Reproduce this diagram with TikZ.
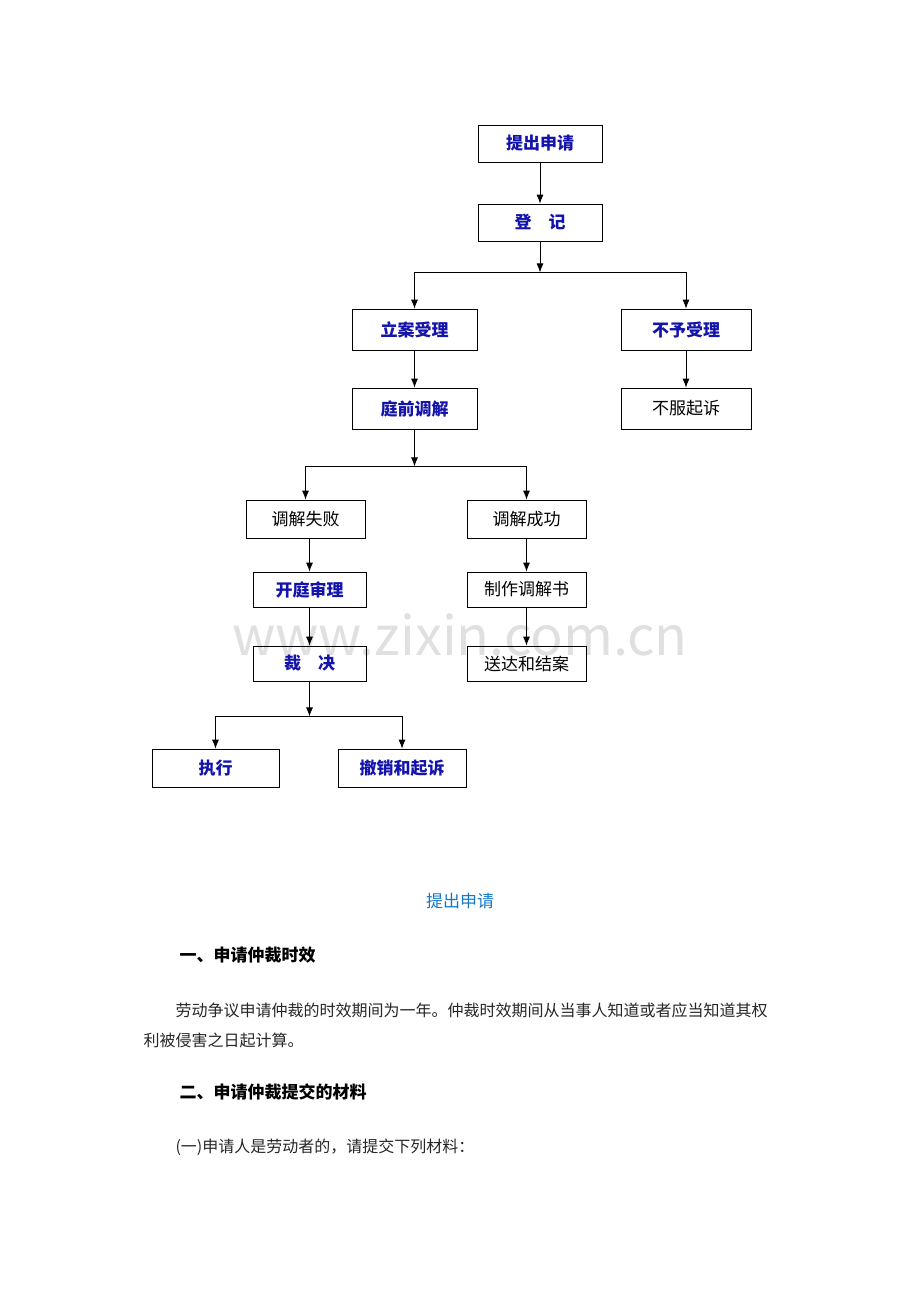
\documentclass[tikz,border=0pt]{standalone}
\usepackage{fontspec}
\setmainfont{Noto Sans CJK SC}
\newfontfamily\cjk{Noto Sans CJK SC}
\usetikzlibrary{arrows.meta}
\definecolor{keyblue}{RGB}{20,20,170}
\definecolor{headblue}{RGB}{20,120,200}

\begin{document}
\begin{tikzpicture}[x=1pt,y=-1pt,
  box/.style={draw, line width=0.8pt, minimum height=37pt, inner sep=0pt, font=\cjk\fontsize{17}{17}\selectfont},
  key/.style={box, text=keyblue, font=\cjk\bfseries\fontsize{17}{17}\selectfont},
  arr/.style={-{Latex[length=9pt,width=7pt]}, line width=0.8pt},
  ln/.style={line width=0.8pt}]
\useasboundingbox (0,0) rectangle (920,1302);

% watermark
\node[text=black!12, font=\fontsize{54}{54}\selectfont] (wm) at (460,635) {www.zixin.com.cn};

% top
\node[key, minimum width=124pt] (tq) at (540,143.5) {提出申请};
\node[key, minimum width=124pt] (dj) at (540,222.5) {登\quad 记};
\node[key, minimum width=125pt, minimum height=41pt] (la) at (414.5,329.5) {立案受理};
\node[key, minimum width=130pt, minimum height=41pt] (by) at (686,329.5) {不予受理};
\node[key, minimum width=125pt, minimum height=41pt] (tj) at (414.5,408.5) {庭前调解};
\node[box, minimum width=130pt, minimum height=41pt] (bf) at (686,408.5) {不服起诉};

% middle
\node[box, minimum width=119pt, minimum height=38pt] (sb) at (305.5,519) {调解失败};
\node[box, minimum width=119pt, minimum height=38pt] (cg) at (526.5,519) {调解成功};
\node[key, minimum width=113pt, minimum height=35pt] (kt) at (309.5,589.5) {开庭审理};
\node[box, minimum width=119pt, minimum height=35pt] (zz) at (526.5,589.5) {制作调解书};
\node[key, minimum width=113pt, minimum height=35pt] (cj) at (309.5,663.5) {裁\quad 决};
\node[box, minimum width=119pt, minimum height=35pt] (sd) at (526.5,663.5) {送达和结案};

% bottom
\node[key, minimum width=127pt, minimum height=38pt] (zx) at (215.5,768) {执行};
\node[key, minimum width=128pt, minimum height=38pt] (cx) at (402,768) {撤销和起诉};

% connectors
\draw[arr] (tq) -- (dj);
\coordinate (b1) at ([yshift=-31pt]dj.south);
\draw[arr] (dj.south) -- (b1);
\draw[arr] (b1) -| (la.north);
\draw[arr] (b1) -| (by.north);
\draw[arr] (la) -- (tj);
\draw[arr] (by) -- (bf);
\coordinate (b2) at ([yshift=-37pt]tj.south);
\draw[arr] (tj.south) -- (b2);
\draw[arr] (b2) -| (sb.north);
\draw[arr] (b2) -| (cg.north);
\draw[arr] (sb.south -| kt.north) -- (kt.north);
\draw[arr] (cg) -- (zz);
\draw[arr] (kt) -- (cj);
\draw[arr] (zz) -- (sd);
\coordinate (b3) at ([yshift=-35pt]cj.south);
\draw[arr] (cj.south) -- (b3);
\draw[arr] (b3) -| (zx.north);
\draw[arr] (b3) -| (cx.north);

% text below
\node[text=headblue, font=\cjk\fontsize{17}{17}\selectfont] (h0) at (460,901) {提出申请};
\node[anchor=west, font=\cjk\bfseries\fontsize{17}{17}\selectfont] (h1) at (176,955) {一、申请仲裁时效};
\node[anchor=west, font=\cjk\fontsize{16}{16}\selectfont, text=black!85] (p1) at (172,1010) {劳动争议申请仲裁的时效期间为一年。仲裁时效期间从当事人知道或者应当知道其权};
\node[anchor=west, font=\cjk\fontsize{16}{16}\selectfont, text=black!85] (p2) at (140,1040) {利被侵害之日起计算。};
\node[anchor=west, font=\cjk\bfseries\fontsize{17}{17}\selectfont] (h2) at (176,1092) {二、申请仲裁提交的材料};
\node[anchor=west, font=\cjk\fontsize{16}{16}\selectfont, text=black!85] (p3) at (172,1147) {(一)申请人是劳动者的，请提交下列材料：};
\end{tikzpicture}
\end{document}
